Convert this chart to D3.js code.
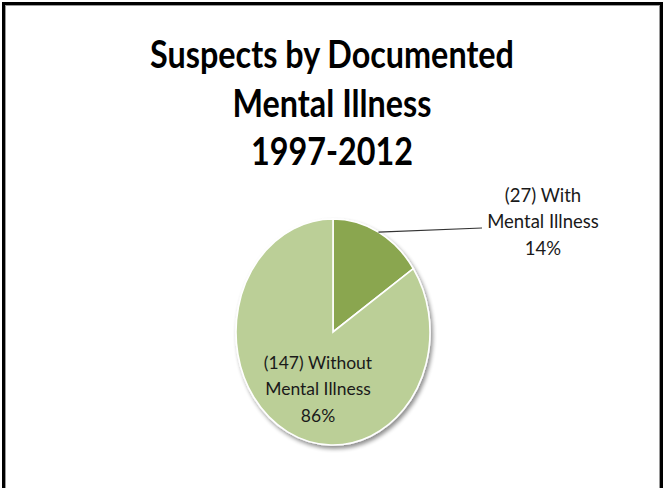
<!DOCTYPE html>
<html>
<head>
<meta charset="utf-8">
<script src="https://cdn.jsdelivr.net/npm/d3@7"></script>
<style>
  html, body { margin: 0; padding: 0; background: #fff; }
  svg { display: block; }
</style>
</head>
<body>
<svg id="chart" width="665" height="488"></svg>
<script>
// Suspects split by documented mental illness, 1997-2012
const titleLines = ["Suspects by Documented", "Mental Illness", "1997-2012"];
const categories = ["With Mental Illness", "Without Mental Illness"];
const counts = [27, 147];
const percentLabels = ["14%", "86%"];
const labelLines = [
  ["(27) With", "Mental Illness", "14%"],
  ["(147) Without", "Mental Illness", "86%"]
];
const sliceColors = ["#8aa64f", "#bbcf97"];

const W = 665, H = 488;
const svg = d3.select("#chart");

// frame (open at the bottom edge)
svg.append("rect")
  .attr("x", 3.5).attr("y", 3.5)
  .attr("width", W - 7).attr("height", H + 20)
  .attr("fill", "none").attr("stroke", "#000").attr("stroke-width", 3);
svg.append("rect")
  .attr("x", 5.5).attr("y", 5.5)
  .attr("width", W - 11).attr("height", H + 20)
  .attr("fill", "none").attr("stroke", "#9a9a9a").attr("stroke-width", 1);

// title: tall, slightly condensed bold lines
const titleFont = "Lato, 'Open Sans', sans-serif";
const titleBaselines = [68, 117, 165];
const titleFontSize = 38.5;
const condense = 0.84;
const title = svg.append("g").attr("class", "title");
titleLines.forEach((t, i) => {
  title.append("text")
    .attr("transform", `translate(332,${titleBaselines[i]}) scale(${condense},1)`)
    .attr("text-anchor", "middle")
    .attr("font-family", titleFont)
    .attr("font-weight", "bold")
    .attr("font-size", titleFontSize)
    .attr("fill", "#000")
    .text(t);
});

// pie, drawn as an ellipse by squashing a circular arc horizontally
const cx = 333, cy = 332, rx = 97, ry = 113;
const pie = d3.pie().sort(null).value(d => d)(counts);
const arc = d3.arc().innerRadius(0).outerRadius(ry);

const defs = svg.append("defs");
const shadow = defs.append("filter").attr("id", "pieShadow")
  .attr("x", "-20%").attr("y", "-20%").attr("width", "140%").attr("height", "140%");
shadow.append("feGaussianBlur").attr("in", "SourceAlpha").attr("stdDeviation", 2.2).attr("result", "b");
shadow.append("feOffset").attr("in", "b").attr("dx", 2).attr("dy", 3).attr("result", "o");
shadow.append("feComponentTransfer").attr("in", "o").attr("result", "s")
  .append("feFuncA").attr("type", "linear").attr("slope", 0.45);
const merge = shadow.append("feMerge");
merge.append("feMergeNode").attr("in", "s");
merge.append("feMergeNode").attr("in", "SourceGraphic");

const pieG = svg.append("g")
  .attr("transform", `translate(${cx},${cy}) scale(${rx / ry},1)`)
  .attr("filter", "url(#pieShadow)");
pieG.selectAll("path")
  .data(pie)
  .join("path")
  .attr("d", arc)
  .attr("fill", (d, i) => sliceColors[i])
  .attr("stroke", "#fff")
  .attr("stroke-width", 1.6)
  .attr("vector-effect", "non-scaling-stroke");

// leader line from the middle of the small slice's rim
const small = pie[0];
const midA = (small.startAngle + small.endAngle) / 2;
const lx0 = cx + Math.sin(midA) * rx;
const ly0 = cy - Math.cos(midA) * ry;
svg.append("line")
  .attr("x1", lx0).attr("y1", ly0)
  .attr("x2", 482).attr("y2", 228)
  .attr("stroke", "#333").attr("stroke-width", 1.2);

// data labels
const labelFont = "Lato, 'Open Sans', sans-serif";
const labelPos = [
  { x: 543, y: [202, 228, 255], size: 18.5 },
  { x: 318, y: [369, 395, 422], size: 17.5 }
];
labelLines.forEach((lines, k) => {
  lines.forEach((t, j) => {
    svg.append("text")
      .attr("x", labelPos[k].x).attr("y", labelPos[k].y[j])
      .attr("text-anchor", "middle")
      .attr("font-family", labelFont)
      .attr("font-size", labelPos[k].size)
      .attr("fill", "#1a1a1a")
      .text(t);
  });
});
</script>
</body>
</html>
